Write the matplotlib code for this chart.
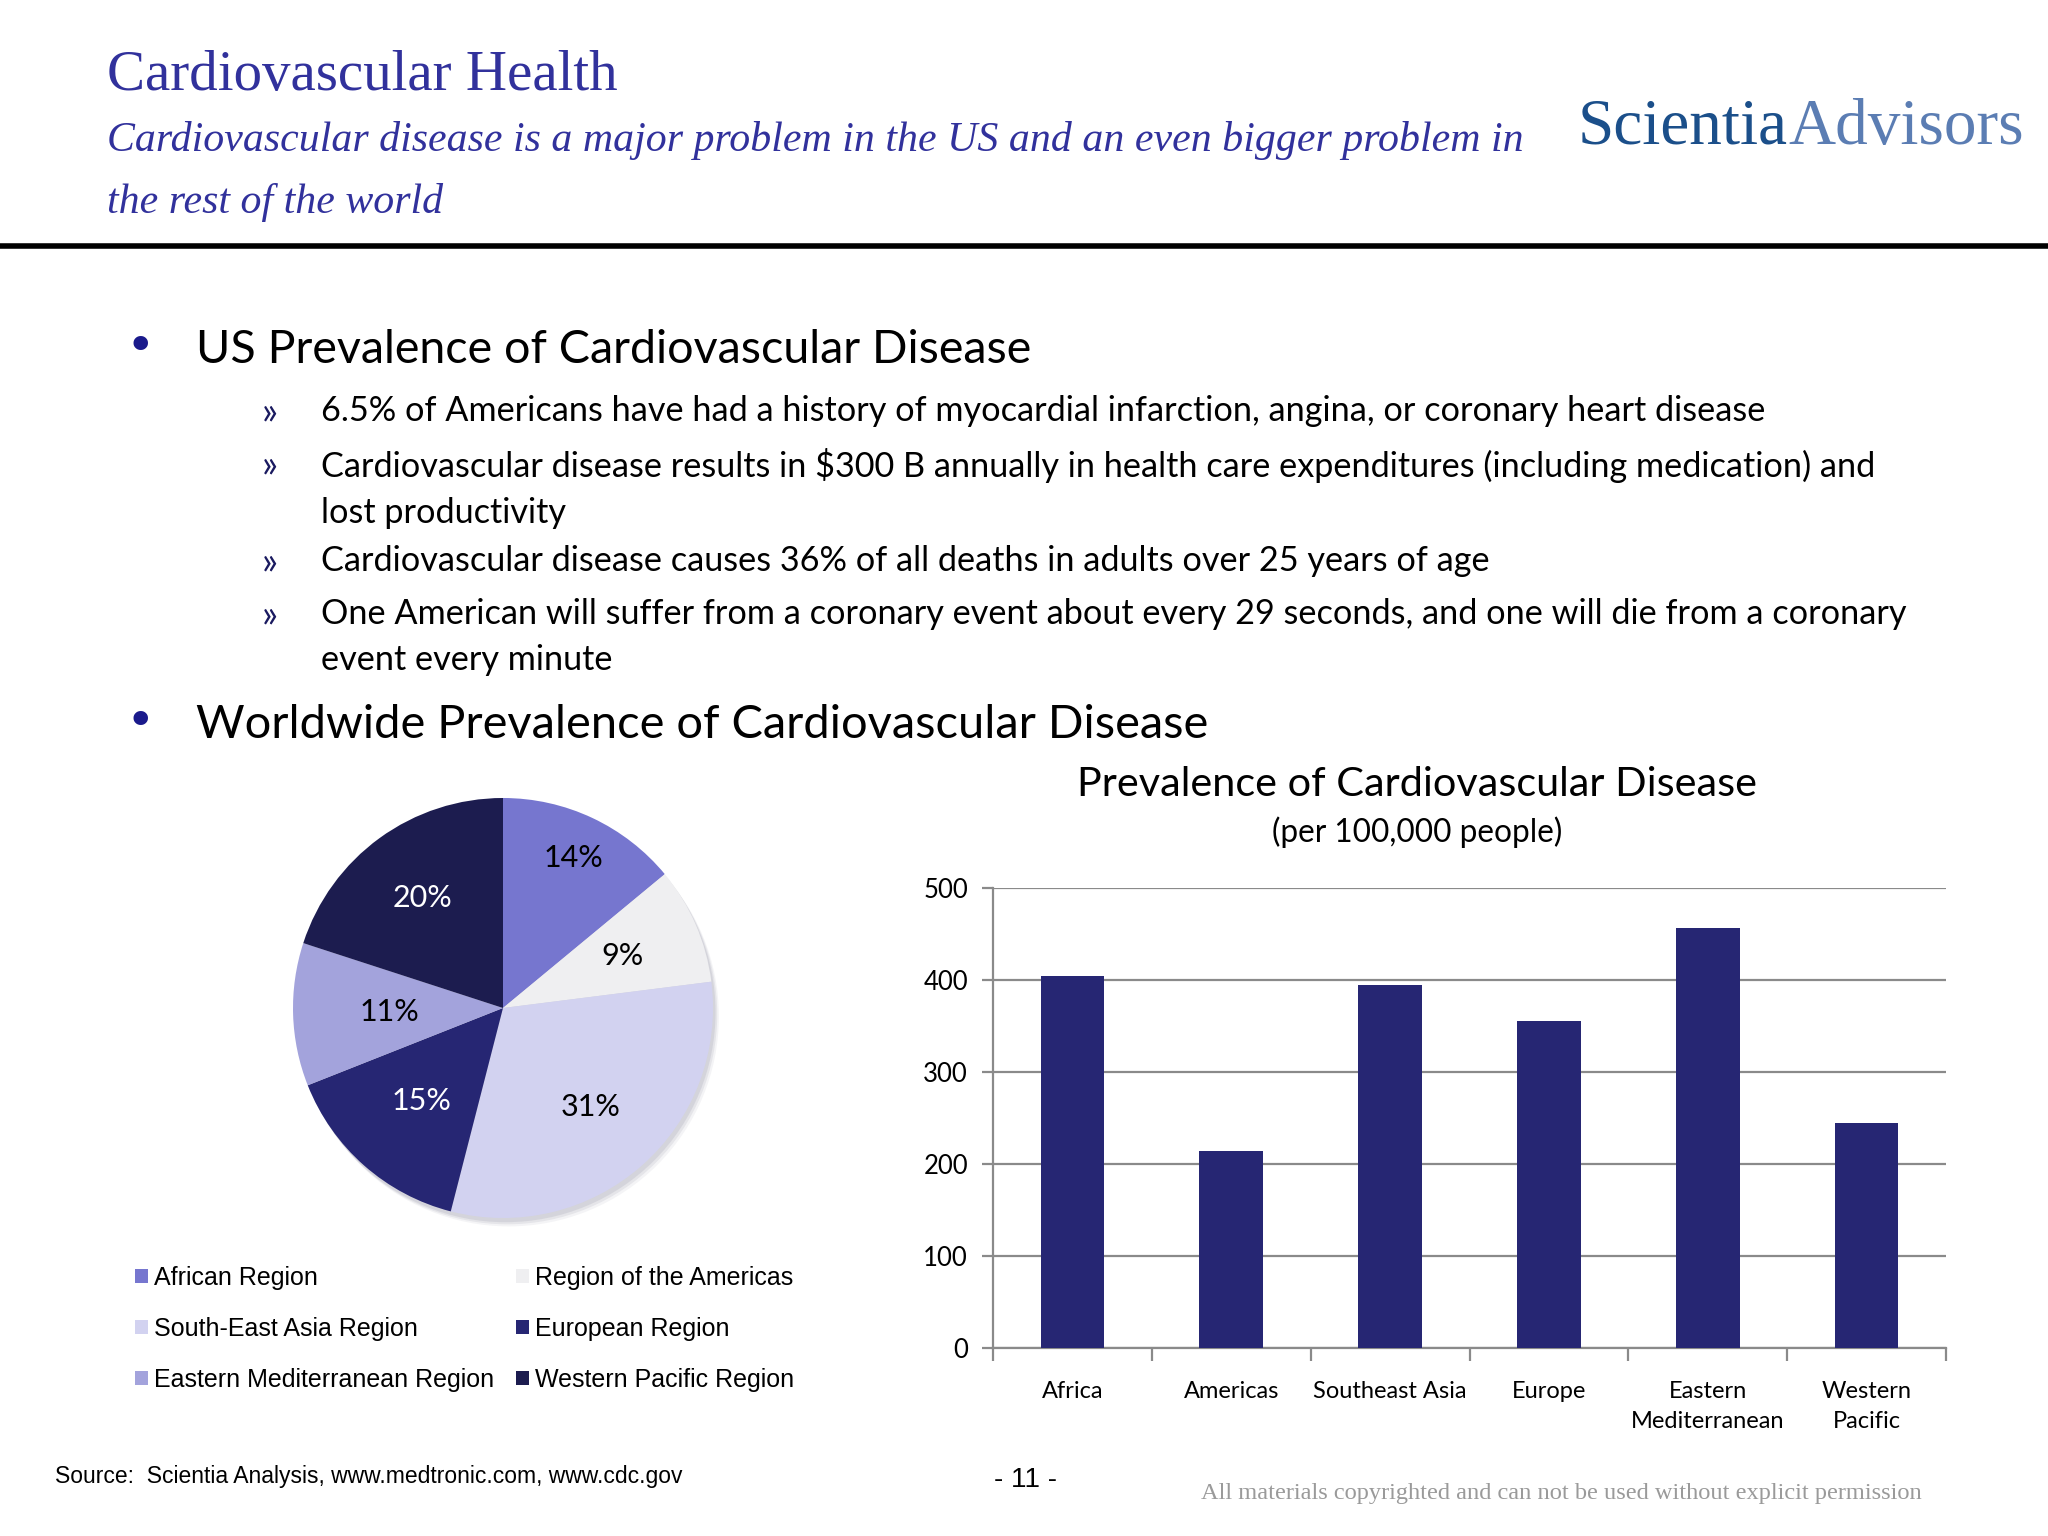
import matplotlib
matplotlib.use("Agg")
import matplotlib.pyplot as plt
from matplotlib.lines import Line2D
import numpy as np

W, H = 2048, 1536

# ---- data ----
pie_regions = ["African Region", "Region of the Americas", "South-East Asia Region",
               "European Region", "Eastern Mediterranean Region", "Western Pacific Region"]
pie_shares = [14, 9, 31, 15, 11, 20]
pie_colors = ["#7676cf", "#efeff1", "#d2d2f0", "#262673", "#a3a3dc", "#1c1c4f"]
pie_text_colors = ["black", "black", "black", "white", "black", "white"]

bar_regions = ["Africa", "Americas", "Southeast Asia", "Europe",
               "Eastern\nMediterranean", "Western\nPacific"]
bar_values = [404, 214, 395, 355, 456, 245]
bar_ticks = [0, 100, 200, 300, 400, 500]

us_points = [
    "6.5% of Americans have had a history of myocardial infarction, angina, or coronary heart disease",
    "Cardiovascular disease results in $300 B annually in health care expenditures (including medication) and\nlost productivity",
    "Cardiovascular disease causes 36% of all deaths in adults over 25 years of age",
    "One American will suffer from a coronary event about every 29 seconds, and one will die from a coronary\nevent every minute",
]
us_point_y = [413, 466, 563, 616]

SANS = "Lato"
SERIF = "Liberation Serif"
TITLE_BLUE = "#31319c"
NAVY = "#262673"


def px(x, y):
    return x / W, 1 - y / H


fig = plt.figure(figsize=(W / 100, H / 100), dpi=100)
fig.patch.set_facecolor("white")

# header
fig.text(*px(107, 76), "Cardiovascular Health", fontsize=41, family=SERIF,
         color=TITLE_BLUE, va="center", ha="left")
fig.text(*px(107, 141), "Cardiovascular disease is a major problem in the US and an even bigger problem in",
         fontsize=30.2, family=SERIF, style="italic", color=TITLE_BLUE, va="center")
fig.text(*px(107, 203), "the rest of the world",
         fontsize=30.2, family=SERIF, style="italic", color=TITLE_BLUE, va="center")

# logo text
t1 = fig.text(*px(1578, 128), "Scientia", fontsize=47, family=SERIF, color="#1b4f8a", va="center")
fig.canvas.draw()
bb = t1.get_window_extent()
fig.text(bb.x1 / W, 1 - 128 / H, "Advisors", fontsize=47, family=SERIF, color="#5b7db3", va="center")

fig.add_artist(Line2D([0, 1], [1 - 246 / H, 1 - 246 / H], color="black", lw=4,
                      transform=fig.transFigure))

# bullets
fig.text(*px(140, 347), "\u2022", fontsize=36, color="#1a1a8c", va="center", ha="center")
fig.text(*px(196, 350), "US Prevalence of Cardiovascular Disease", fontsize=33.6, family=SANS,
         color="black", va="center")
for txt, y in zip(us_points, us_point_y):
    fig.text(*px(270, y), "\u00bb", fontsize=27, family=SANS, color="#1a1a60", va="center", ha="center")
    fig.text(*px(321, y - 18), txt, fontsize=24.7, family=SANS, color="black", va="top",
             linespacing=1.52)
fig.text(*px(140, 722), "\u2022", fontsize=36, color="#1a1a8c", va="center", ha="center")
fig.text(*px(196, 725), "Worldwide Prevalence of Cardiovascular Disease", fontsize=33.8, family=SANS,
         color="black", va="center")

# ---- pie ----
cx, cy, r = 503, 1008, 210
ax_p = fig.add_axes([(cx - r) / W, 1 - (cy + r) / H, 2 * r / W, 2 * r / H])
for k, a in enumerate([0.35, 0.25, 0.15]):
    sh = plt.Circle((0.012 + 0.008 * k, -0.02 - 0.01 * k), 1.0, color="#b8b8c4", alpha=a,
                    zorder=0, clip_on=False, lw=0)
    ax_p.add_patch(sh)
wedges, texts, autotexts = ax_p.pie(pie_shares, colors=pie_colors, startangle=90, counterclock=False,
                                    autopct="%d%%", radius=1.0,
                                    textprops=dict(fontsize=22, family=SANS))
label_dist = [0.79, 0.62, 0.63, 0.59, 0.54, 0.65]
for w, t, d, c in zip(wedges, autotexts, label_dist, pie_text_colors):
    w.set_clip_on(False)
    ang = np.deg2rad((w.theta1 + w.theta2) / 2)
    t.set_position((d * np.cos(ang), d * np.sin(ang)))
    t.set_color(c)
ax_p.set_xlim(-1, 1)
ax_p.set_ylim(-1, 1)
ax_p.set_aspect("equal")
ax_p.axis("off")

order = [0, 2, 4, 1, 3, 5]
fig.legend([wedges[i] for i in order], [pie_regions[i] for i in order], ncol=2,
           loc="upper left", bbox_to_anchor=px(125, 1256), frameon=False,
           prop=dict(family="Liberation Sans", size=18), handlelength=0.5, handleheight=0.5,
           handletextpad=0.25, labelspacing=1.08, columnspacing=0.9, borderaxespad=0)

# ---- bar chart ----
x0, x1, y0, y1 = 993, 1946, 1348, 888
ax_b = fig.add_axes([x0 / W, 1 - y0 / H, (x1 - x0) / W, (y0 - y1) / H])
pos = np.arange(len(bar_values))
ax_b.bar(pos, bar_values, width=0.4, color=NAVY, zorder=3)
ax_b.set_xlim(-0.5, len(bar_values) - 0.5)
ax_b.set_ylim(0, 500)
ax_b.set_yticks(bar_ticks)
ax_b.set_yticklabels([str(v) for v in bar_ticks], family=SANS, fontsize=18.5)
ax_b.yaxis.grid(True, color="#8a8a8a", lw=1.6, zorder=0)
ax_b.set_xticks(pos)
ax_b.set_xticklabels(bar_regions, family=SANS, fontsize=17, linespacing=1.5)
ax_b.set_xticks(np.arange(len(bar_values) + 1) - 0.5, minor=True)
ax_b.tick_params(axis="x", which="major", length=0, pad=24)
ax_b.tick_params(axis="x", which="minor", length=9, width=1.6, color="#8a8a8a")
ax_b.tick_params(axis="y", length=8, width=1.6, color="#8a8a8a", pad=10)
for s in ["top", "right"]:
    ax_b.spines[s].set_visible(False)
for s in ["left", "bottom"]:
    ax_b.spines[s].set_color("#8a8a8a")
    ax_b.spines[s].set_linewidth(1.6)

fig.text(*px(1417, 784), "Prevalence of Cardiovascular Disease", fontsize=29.8, family=SANS,
         va="center", ha="center")
fig.text(*px(1417, 832), "(per 100,000 people)", fontsize=22.7, family=SANS, va="center", ha="center")

# footer
fig.text(*px(55, 1476), "Source:  Scientia Analysis, www.medtronic.com, www.cdc.gov",
         fontsize=16.5, family="Liberation Sans", va="center")
fig.text(*px(1025, 1480), "- 11 -", fontsize=20, family="Liberation Sans", va="center", ha="center")
fig.text(*px(1561, 1493), "All materials copyrighted and can not be used without explicit permission",
         fontsize=17.6, family=SERIF, color="#9a9a9a", va="center", ha="center")

fig.savefig("out.png", dpi=100)
